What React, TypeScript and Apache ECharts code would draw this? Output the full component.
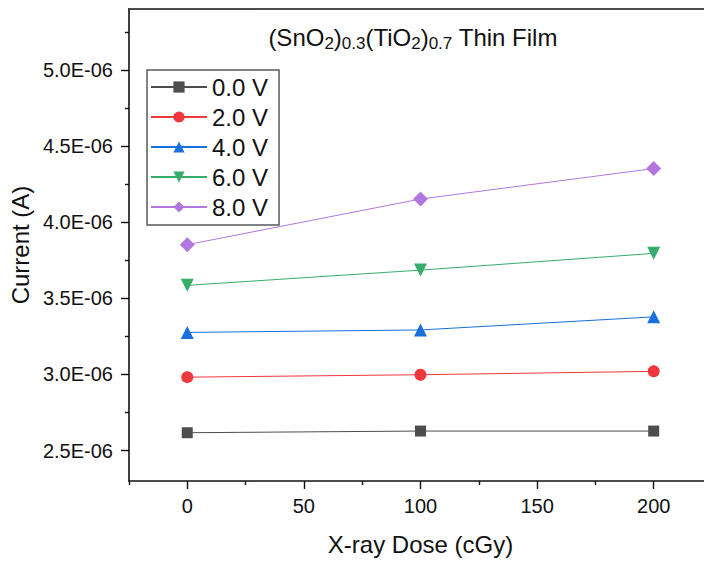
import React, { useEffect, useRef } from "react";
import * as echarts from "echarts";

const doses = [0, 100, 200];
const seriesNames = ["0.0 V", "2.0 V", "4.0 V", "6.0 V", "8.0 V"];
const v0 = [2.617e-6, 2.628e-6, 2.628e-6];
const v2 = [2.982e-6, 2.998e-6, 3.02e-6];
const v4 = [3.276e-6, 3.292e-6, 3.378e-6];
const v6 = [3.585e-6, 3.685e-6, 3.795e-6];
const v8 = [3.852e-6, 4.152e-6, 4.352e-6];
const yLabelValues = [2.5e-6, 3.0e-6, 3.5e-6, 4.0e-6, 4.5e-6, 5.0e-6];
const yMinorValues = [2.75e-6, 3.25e-6, 3.75e-6, 4.25e-6, 4.75e-6, 5.25e-6];
const xLabelValues = [0, 50, 100, 150, 200];
const xMinorValues = [-25, 25, 75, 125, 175, 225];

const colors = ["#4d4d4d", "#f0383c", "#1a6fdf", "#37ad6b", "#b177de"];
const symbols = ["rect", "circle", "triangle", "triangle", "diamond"];
const symbolSizes = [11, 12, 13, 13, 15];
const symbolRotates = [0, 0, 0, 180, 0];
const allValues = [v0, v2, v4, v6, v8];

const FONT = "'Liberation Sans', Arial, sans-serif";

export default function App() {
  const ref = useRef<HTMLDivElement>(null);
  useEffect(() => {
    if (!ref.current) return;
    const chart = echarts.init(ref.current, null, { renderer: "svg" });
    const axisLine = { show: true, lineStyle: { color: "#111", width: 1.6 } };
    chart.setOption({
      animation: false,
      textStyle: { fontFamily: FONT },
      grid: { left: 127, top: 9, width: 585, height: 476, containLabel: false },
      xAxis: [
        {
          type: "value",
          min: -25,
          max: 225,
          axisLine: { ...axisLine, onZero: false },
          axisTick: { show: true, length: 8, customValues: xLabelValues, lineStyle: { color: "#111", width: 1.4 } },
          axisLabel: { customValues: xLabelValues, fontSize: 20, color: "#111", margin: 15, fontFamily: FONT },
          splitLine: { show: false },
          name: "X-ray Dose (cGy)",
          nameLocation: "middle",
          nameGap: 51,
          nameTextStyle: { fontSize: 24, color: "#111", fontFamily: FONT },
        },
        {
          type: "value",
          min: -25,
          max: 225,
          position: "bottom",
          axisLine: { show: false, onZero: false },
          axisTick: { show: true, length: 4, customValues: xMinorValues, lineStyle: { color: "#111", width: 1.4 } },
          axisLabel: { show: false },
          splitLine: { show: false },
        },
        {
          type: "value",
          min: -25,
          max: 225,
          position: "top",
          axisLine: { ...axisLine, onZero: false },
          axisTick: { show: false },
          axisLabel: { show: false },
          splitLine: { show: false },
        },
      ],
      yAxis: [
        {
          type: "value",
          min: 2.3e-6,
          max: 5.4e-6,
          position: "left",
          axisLine: { ...axisLine, onZero: false },
          axisTick: { show: true, length: 8, customValues: yLabelValues, lineStyle: { color: "#111", width: 1.4 } },
          axisLabel: {
            customValues: yLabelValues,
            fontSize: 20,
            color: "#111",
            margin: 16,
            fontFamily: FONT,
            formatter: (v: number) => (v * 1e6).toFixed(1) + "E-06",
          },
          splitLine: { show: false },
          name: "Current (A)",
          nameLocation: "middle",
          nameGap: 84,
          nameTextStyle: { fontSize: 24, color: "#111", fontFamily: FONT },
        },
        {
          type: "value",
          min: 2.3e-6,
          max: 5.4e-6,
          position: "left",
          axisLine: { show: false, onZero: false },
          axisTick: { show: true, length: 4, customValues: yMinorValues, lineStyle: { color: "#111", width: 1.4 } },
          axisLabel: { show: false },
          splitLine: { show: false },
        },
      ],
      legend: {
        orient: "vertical",
        left: 147,
        top: 70,
        padding: [5, 11, 6, 3],
        itemWidth: 56,
        itemHeight: 14,
        itemGap: 6,
        borderColor: "#5a5a5a",
        borderWidth: 1.5,
        borderRadius: 0,
        backgroundColor: "#fff",
        textStyle: { fontSize: 24, lineHeight: 24, color: "#111", fontFamily: FONT },
        data: seriesNames,
      },
      graphic: [
        {
          type: "text",
          x: 413,
          y: 37,
          style: {
            text: "(SnO{s|2}){s|0.3}(TiO{s|2}){s|0.7} Thin Film",
            font: `24px ${FONT}`,
            fontSize: 24,
            fontFamily: FONT,
            fill: "#111",
            textAlign: "center",
            textVerticalAlign: "middle",
            rich: {
              s: { fontSize: 17, fontFamily: FONT, fill: "#111", padding: [13, 0, 0, 0] },
            },
          },
        },
      ],
      series: seriesNames.map((name, i) => ({
        name,
        type: "line",
        xAxisIndex: 0,
        yAxisIndex: 0,
        data: doses.map((d, j) => [d, allValues[i][j]]),
        symbol: symbols[i],
        symbolSize: symbolSizes[i],
        symbolRotate: symbolRotates[i],
        showSymbol: true,
        lineStyle: { color: colors[i], width: 1 },
        itemStyle: { color: colors[i] },
        emphasis: { disabled: true },
      })),
    });
    return () => chart.dispose();
  }, []);
  return (
    <div style={{ width: 704, height: 561, position: "absolute", left: 0, top: 0, overflow: "hidden" }}>
      <div ref={ref} style={{ width: 720, height: 561 }} />
    </div>
  );
}
